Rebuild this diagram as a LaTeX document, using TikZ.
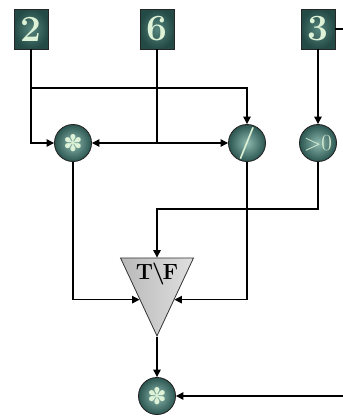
\documentclass[tikz,border=0pt]{standalone}
\usepackage{fontspec}
\newfontfamily\symfnt{DejaVu Sans}
\usetikzlibrary{shapes.geometric,arrows.meta,calc}
\definecolor{boxdark}{HTML}{244A46}
\definecolor{boxlight}{HTML}{55857D}
\definecolor{balldark}{HTML}{2B5651}
\definecolor{balllight}{HTML}{8DB8AE}
\definecolor{glyph}{HTML}{DDF2D6}
\begin{document}
\begin{tikzpicture}[x=1pt,y=-1pt,
 valbox/.style={rectangle, draw=black!85, line width=0.9pt, minimum width=34pt, minimum height=40pt, inner sep=0pt, inner color=boxlight, outer color=boxdark, text=glyph, font=\fontsize{37}{37}\selectfont\bfseries},
 opball/.style={circle, draw=black!85, line width=0.9pt, minimum size=37pt, inner sep=0pt, inner color=balllight, outer color=balldark, text=glyph},
 tri/.style={isosceles triangle, shape border rotate=270, isosceles triangle stretches, minimum width=73pt, minimum height=78pt, inner sep=0pt, draw=black!80, line width=0.8pt, left color=gray!55, right color=gray!25},
 wire/.style={line width=1.2pt, black},
 arr/.style={wire, -{Triangle[length=7.5pt,width=7.5pt]}},
]
\useasboundingbox (0,0) rectangle (343,416);
\node[valbox] (b2) at (31,29) {2};
\node[valbox] (b6) at (157,29) {6};
\node[valbox] (b3) at (318,29) {3};
\node[opball, font=\fontsize{23}{23}\symfnt] (m1) at (73,143) {✽};
\node[opball, font=\fontsize{32}{32}\selectfont\bfseries] (div) at (247,143) {/};
\node[opball, font=\fontsize{23}{23}\selectfont] (gt) at (318,143) {>0};
\node[tri, anchor=apex] (tf) at (157,337) {};
\node[font=\fontsize{22}{22}\selectfont\bfseries] (tflabel) at (157,274) {T\kern-1pt\textbackslash\kern-2pt F};
\node[opball, font=\fontsize{23}{23}\symfnt] (m2) at (157,396) {✽};
\coordinate (j2) at (31,88);
\coordinate (j6) at (157,143);
\coordinate (jg) at (157,209);
\coordinate (out3) at (343,29);
\coordinate (in4) at (343,396);
\draw[arr] (b2.south) |- (m1.west);
\draw[arr] (j2) -| (div.north);
\draw[wire] (b6.south) -- (j6);
\draw[arr] (j6) -- (m1.east);
\draw[arr] (j6) -- (div.west);
\draw[arr] (b3.south) -- (gt.north);
\draw[wire] (b3.east) -- (out3);
\draw[arr] (gt.south) |- (jg) -- (tf.lower side);
\draw[arr] (m1.south) |- ($(tf.apex)!0.47!(tf.right corner)$);
\draw[arr] (div.south) |- ($(tf.apex)!0.47!(tf.left corner)$);
\draw[arr] (tf.apex) -- (m2.north);
\draw[arr] (in4) -- (m2.east);
\end{tikzpicture}
\end{document}
